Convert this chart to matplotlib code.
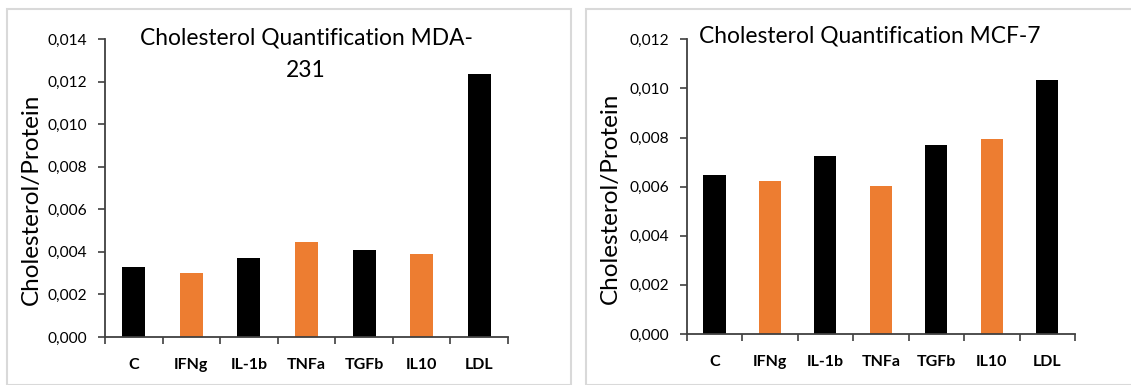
import matplotlib
matplotlib.use("Agg")
import matplotlib.pyplot as plt
from matplotlib.patches import Rectangle
from matplotlib.ticker import FuncFormatter, FixedLocator
import numpy as np

categories = ["C", "IFNg", "IL-1b", "TNFa", "TGFb", "IL10", "LDL"]
mda231_values = [0.00327, 0.00299, 0.00371, 0.00445, 0.00410, 0.00388, 0.01235]
mcf7_values = [0.00649, 0.00622, 0.00726, 0.00603, 0.00771, 0.00793, 0.01036]
bar_colors = ["#000000", "#ED7D31", "#000000", "#ED7D31", "#000000", "#ED7D31", "#000000"]
mda_yticks = [0.000, 0.002, 0.004, 0.006, 0.008, 0.010, 0.012, 0.014]
mcf_yticks = [0.000, 0.002, 0.004, 0.006, 0.008, 0.010, 0.012]

FONT = "Lato"
plt.rcParams["font.family"] = [FONT, "DejaVu Sans"]

W, H = 1131, 385
fig = plt.figure(figsize=(W / 100, H / 100), dpi=100)
fig.patch.set_facecolor("white")

# panel borders
fig.add_artist(Rectangle((7 / W, 0), (571 - 7) / W, 1 - 9 / H, transform=fig.transFigure,
                         fill=False, edgecolor="#d9d9d9", linewidth=1.5))
fig.add_artist(Rectangle((586 / W, 0), (1131 - 586) / W + 0.01, 1 - 9 / H, transform=fig.transFigure,
                         fill=False, edgecolor="#d9d9d9", linewidth=1.5))

def comma_fmt(v, pos):
    return f"{v:.3f}".replace(".", ",")

def setup(ax, values, yticks):
    x = np.arange(len(categories))
    ax.bar(x, values, width=0.4, color=bar_colors)
    ax.set_xlim(-0.5, len(categories) - 0.5)
    ax.set_ylim(yticks[0], yticks[-1])
    ax.yaxis.set_major_locator(FixedLocator(yticks))
    ax.yaxis.set_major_formatter(FuncFormatter(comma_fmt))
    ax.set_xticks(x)
    ax.set_xticklabels(categories, fontweight="bold", fontsize=11.5)
    ax.set_xticks(np.arange(-0.5, len(categories)), minor=True)
    ax.tick_params(axis="x", which="major", length=0, pad=15)
    ax.tick_params(axis="x", which="minor", length=5, width=1.2, color="#404040", direction="out")
    ax.tick_params(axis="y", which="major", length=5, width=1.2, color="#404040", labelsize=11.2, pad=8)
    for s in ["top", "right"]:
        ax.spines[s].set_visible(False)
    for s in ["left", "bottom"]:
        ax.spines[s].set_color("#404040")
        ax.spines[s].set_linewidth(1.3)
    ax.set_ylabel("Cholesterol/Protein", fontsize=17.5)

ax1 = fig.add_axes([105 / W, 1 - 337 / H, (508 - 105) / W, (337 - 39) / H])
setup(ax1, mda231_values, mda_yticks)
ax1.yaxis.set_label_coords(42 / W, 1 - 199 / H, transform=fig.transFigure)
fig.text(306 / W, 1 - 27 / H, "Cholesterol Quantification MDA-\n231", ha="center", va="top",
         fontsize=16.4, linespacing=1.7)

ax2 = fig.add_axes([686.7 / W, 1 - 334 / H, (1075 - 686.7) / W, (334 - 39.3) / H])
setup(ax2, mcf7_values, mcf_yticks)
ax2.yaxis.set_label_coords(621 / W, 1 - 198 / H, transform=fig.transFigure)
fig.text(870 / W, 1 - 25 / H, "Cholesterol Quantification MCF-7", ha="center", va="top",
         fontsize=16.4)

fig.savefig("out.png", dpi=100)
